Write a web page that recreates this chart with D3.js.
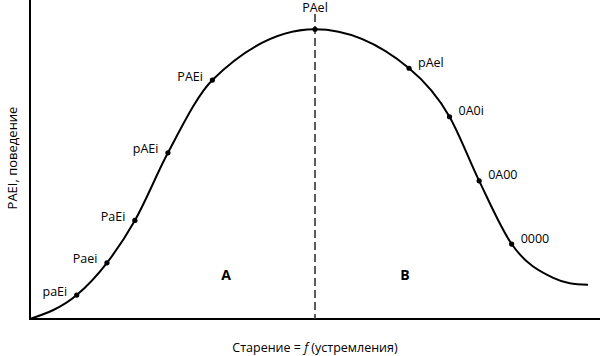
<!DOCTYPE html>
<html>
<head>
<meta charset="utf-8">
<script src="https://cdn.jsdelivr.net/npm/d3@7"></script>
<style>
  html, body { margin: 0; padding: 0; background: #fff; }
  svg { display: block; font-family: "Open Sans", "Noto Sans", sans-serif; }
</style>
</head>
<body>
<svg id="chart" width="600" height="356"></svg>
<script>
// ---- data (x: 0..100 along the axis, y: 0..100 behaviour) ----
const curveX = [0, 8.2, 13.5, 18.4, 24.2, 32.0, 50.0, 66.5, 73.6, 78.8, 84.5, 91.8, 94.7, 97.9];
const curveY = [0, 7.5, 17.6, 30.9, 52.1, 74.9, 90.8, 78.6, 63.4, 43.3, 23.5, 12.9, 11.2, 10.7];
const pointLabels = ["", "paEi", "Paei", "PaEi", "pAEi", "PAEi", "PAel", "pAel", "0A0i", "0A00", "0000", "", "", ""];
const peakX = 50;
const dashTop = 95.6;
const regionLabels = ["A", "B"];
const regionX = [34.4, 65.8];
const regionY = [14.1, 14.1];
const xTitle = ["Старение = ", "f", " (устремления)"];
const yTitle = "PAEI, поведение";

// ---- drawing ----
const svg = d3.select("#chart");
const x = d3.scaleLinear().domain([0, 100]).range([30, 600]);
const y = d3.scaleLinear().domain([0, 100]).range([319, 0]);

const pts = curveX.map((v, i) => ({ x: v, y: curveY[i], label: pointLabels[i] }));

// axes lines
svg.append("line").attr("x1", x(0)).attr("x2", x(0)).attr("y1", y(100)).attr("y2", y(0))
  .attr("stroke", "#000").attr("stroke-width", 2);
svg.append("line").attr("x1", x(0) - 1).attr("x2", x(100)).attr("y1", y(0)).attr("y2", y(0))
  .attr("stroke", "#000").attr("stroke-width", 2);

// dashed divider
svg.append("line").attr("x1", x(peakX)).attr("x2", x(peakX)).attr("y1", y(dashTop)).attr("y2", y(0))
  .attr("stroke", "#333").attr("stroke-width", 1.6).attr("stroke-dasharray", "8,4");

// curve
const line = d3.line().x(d => x(d.x)).y(d => y(d.y)).curve(d3.curveMonotoneX);
svg.append("path").datum(pts).attr("d", line)
  .attr("fill", "none").attr("stroke", "#000").attr("stroke-width", 2);

// points
const labelled = pts.filter(d => d.label);
svg.selectAll("circle.pt").data(labelled).join("circle")
  .attr("class", "pt").attr("cx", d => x(d.x)).attr("cy", d => y(d.y)).attr("r", 2.6).attr("fill", "#000");

svg.selectAll("text.pl").data(labelled).join("text")
  .attr("class", "pl")
  .attr("x", d => d.x < peakX ? x(d.x) - 9.5 : d.x > peakX ? x(d.x) + 9 : x(d.x))
  .attr("y", d => d.x < peakX ? y(d.y) - 4 : d.x > peakX ? y(d.y) - 6 : y(d.y) - 22)
  .attr("text-anchor", d => d.x < peakX ? "end" : d.x > peakX ? "start" : "middle")
  .attr("dominant-baseline", "central")
  .attr("font-size", 12.5).attr("fill", "#000")
  .text(d => d.label);

// region labels
svg.selectAll("text.rg").data(regionLabels).join("text")
  .attr("class", "rg")
  .attr("x", (d, i) => x(regionX[i])).attr("y", (d, i) => y(regionY[i]))
  .attr("text-anchor", "middle").attr("dominant-baseline", "central")
  .attr("font-size", 14).attr("font-weight", "bold").text(d => d);

// x title
const xt = svg.append("text").attr("x", x(50)).attr("y", 347)
  .attr("text-anchor", "middle").attr("dominant-baseline", "central").attr("font-size", 12.5);
xTitle.forEach((s, i) => xt.append("tspan").text(s).attr("font-style", i === 1 ? "italic" : null));

// y title
svg.append("text").attr("transform", "translate(12," + 158 + ") rotate(-90)")
  .attr("text-anchor", "middle").attr("dominant-baseline", "central").attr("font-size", 13)
  .text(yTitle);
</script>
</body>
</html>
